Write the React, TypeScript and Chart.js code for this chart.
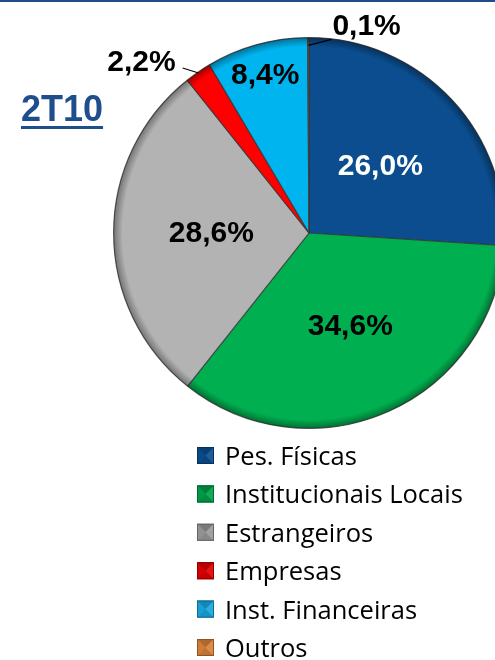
import React, { useEffect, useRef } from "react";
import { Chart, registerables } from "chart.js";

Chart.register(...registerables);

// ---- data ----
const categories = [
  "Pes. Físicas",
  "Institucionais Locais",
  "Estrangeiros",
  "Empresas",
  "Inst. Financeiras",
  "Outros",
];
const shares = [26.0, 34.6, 28.6, 2.2, 8.4, 0.1];
const periodLabel = "2T10";

// ---- style ----
const sliceColors = ["#0b4d8e", "#00b050", "#b3b3b3", "#ff0000", "#00b4f0", "#e46c0a"];
const legendColors = ["#0b4d8e", "#00a04a", "#9a9a9a", "#e00000", "#1aa6e0", "#d9823a"];
const labelStyles = [
  { mode: "in", frac: 0.5, color: "#ffffff" },
  { mode: "in", frac: 0.52, color: "#000000" },
  { mode: "in", frac: 0.5, color: "#000000" },
  { mode: "leftLeader", frac: 0.995, color: "#000000" },
  { mode: "in", frac: 0.84, color: "#000000" },
  { mode: "rightLeader", frac: 0.96, color: "#000000" },
];
const DARK_BLUE = "#1f4e8c";
const LABEL_FONT = "bold 30px 'Liberation Sans', Arial, sans-serif";
const LEGEND_FONT = "25.5px 'Open Sans', sans-serif";

const fmt = (v: number) => v.toFixed(1).replace(".", ",") + "%";

function shade(hex: string, amt: number) {
  const n = parseInt(hex.slice(1), 16);
  let r = (n >> 16) & 255, g = (n >> 8) & 255, b = n & 255;
  const f = (c: number) => Math.max(0, Math.min(255, Math.round(amt >= 0 ? c + (255 - c) * amt : c * (1 + amt))));
  return `rgb(${f(r)},${f(g)},${f(b)})`;
}

const decorPlugin = {
  id: "decor",
  afterDatasetsDraw(chart: any) {
    const ctx = chart.ctx as CanvasRenderingContext2D;
    const meta = chart.getDatasetMeta(0);
    const arcs = meta.data as any[];
    if (!arcs.length) return;
    const cx = arcs[0].x, cy = arcs[0].y, R = arcs[0].outerRadius;

    // bevel darkening near the rim
    ctx.save();
    ctx.beginPath();
    ctx.arc(cx, cy, R, 0, Math.PI * 2);
    ctx.clip();
    const g = ctx.createRadialGradient(cx, cy, R - 9, cx, cy, R);
    g.addColorStop(0, "rgba(0,0,0,0)");
    g.addColorStop(1, "rgba(0,0,0,0.35)");
    ctx.fillStyle = g;
    ctx.fillRect(cx - R, cy - R, 2 * R, 2 * R);
    ctx.restore();

    // value labels
    ctx.save();
    ctx.font = LABEL_FONT;
    ctx.textBaseline = "middle";
    arcs.forEach((arc: any, i: number) => {
      const st = labelStyles[i];
      const mid = (arc.startAngle + arc.endAngle) / 2;
      const r = arc.outerRadius * st.frac;
      const px = arc.x + Math.cos(mid) * r;
      const py = arc.y + Math.sin(mid) * r;
      const txt = fmt(shares[i]);
      ctx.fillStyle = st.color;
      if (st.mode === "in") {
        ctx.textAlign = "center";
        ctx.fillText(txt, px, py + 1);
      } else if (st.mode === "leftLeader") {
        const ex = px - 16, ey = py - 5;
        ctx.strokeStyle = "#000";
        ctx.lineWidth = 1.2;
        ctx.beginPath();
        ctx.moveTo(px, py);
        ctx.lineTo(ex, ey);
        ctx.stroke();
        ctx.textAlign = "right";
        ctx.fillText(txt, ex - 7, ey - 5);
      } else {
        const ex = px + 23, ey = py - 6;
        ctx.strokeStyle = "#000";
        ctx.lineWidth = 1.2;
        ctx.beginPath();
        ctx.moveTo(px, py);
        ctx.lineTo(ex, ey);
        ctx.stroke();
        ctx.textAlign = "left";
        ctx.fillText(txt, ex + 1, ey - 13);
      }
    });
    ctx.restore();
  },
  afterDraw(chart: any) {
    const ctx = chart.ctx as CanvasRenderingContext2D;
    ctx.save();
    // top rule
    ctx.fillStyle = DARK_BLUE;
    ctx.fillRect(0, 0, 495, 2);

    // period title
    ctx.font = "bold 36px 'Liberation Sans', Arial, sans-serif";
    ctx.textAlign = "left";
    ctx.textBaseline = "alphabetic";
    ctx.fillText(periodLabel, 21, 121);
    const w = ctx.measureText(periodLabel).width;
    ctx.fillRect(21, 126, w, 3);

    // legend
    const lx = 197, size = 17, textX = 225, base0 = 465, step = 38.4;
    ctx.font = LEGEND_FONT;
    categories.forEach((name, i) => {
      const by = base0 + i * step;
      const sx = lx, sy = by - 18;
      const c = legendColors[i];
      const mx = sx + size / 2, my = sy + size / 2;
      ctx.fillStyle = c;
      ctx.fillRect(sx, sy, size, size);
      const tri = (pts: number[][], col: string) => {
        ctx.fillStyle = col;
        ctx.beginPath();
        ctx.moveTo(pts[0][0], pts[0][1]);
        ctx.lineTo(pts[1][0], pts[1][1]);
        ctx.lineTo(pts[2][0], pts[2][1]);
        ctx.closePath();
        ctx.fill();
      };
      tri([[sx, sy], [sx + size, sy], [mx, my]], shade(c, -0.2));
      tri([[sx, sy + size], [sx + size, sy + size], [mx, my]], shade(c, -0.12));
      tri([[sx, sy], [sx, sy + size], [mx, my]], shade(c, -0.05));
      tri([[sx + size, sy], [sx + size, sy + size], [mx, my]], shade(c, 0.08));
      ctx.strokeStyle = shade(c, -0.35);
      ctx.lineWidth = 1;
      ctx.strokeRect(sx + 0.5, sy + 0.5, size - 1, size - 1);
      ctx.fillStyle = "#000";
      ctx.fillText(name, textX, by);
    });
    ctx.restore();
  },
};

export default function App() {
  const ref = useRef<HTMLCanvasElement | null>(null);
  useEffect(() => {
    if (!ref.current) return;
    const chart = new Chart(ref.current, {
      type: "pie",
      data: {
        labels: categories,
        datasets: [
          {
            data: shares,
            backgroundColor: sliceColors,
            borderColor: "rgba(55,55,55,0.8)",
            borderWidth: 1.2,
          },
        ],
      },
      options: {
        responsive: false,
        animation: false,
        devicePixelRatio: 1,
        layout: { padding: { left: 113, top: 37, right: 195, bottom: 231 } },
        plugins: {
          legend: { display: false },
          tooltip: { enabled: false },
        },
      },
      plugins: [decorPlugin],
    } as any);
    return () => chart.destroy();
  }, []);
  return (
    <div
      style={{
        position: "fixed",
        left: 0,
        top: 0,
        width: 495,
        height: 660,
        overflow: "hidden",
        background: "#fff",
      }}
    >
      <canvas ref={ref} width={700} height={660} style={{ width: 700, height: 660, display: "block" }} />
    </div>
  );
}
